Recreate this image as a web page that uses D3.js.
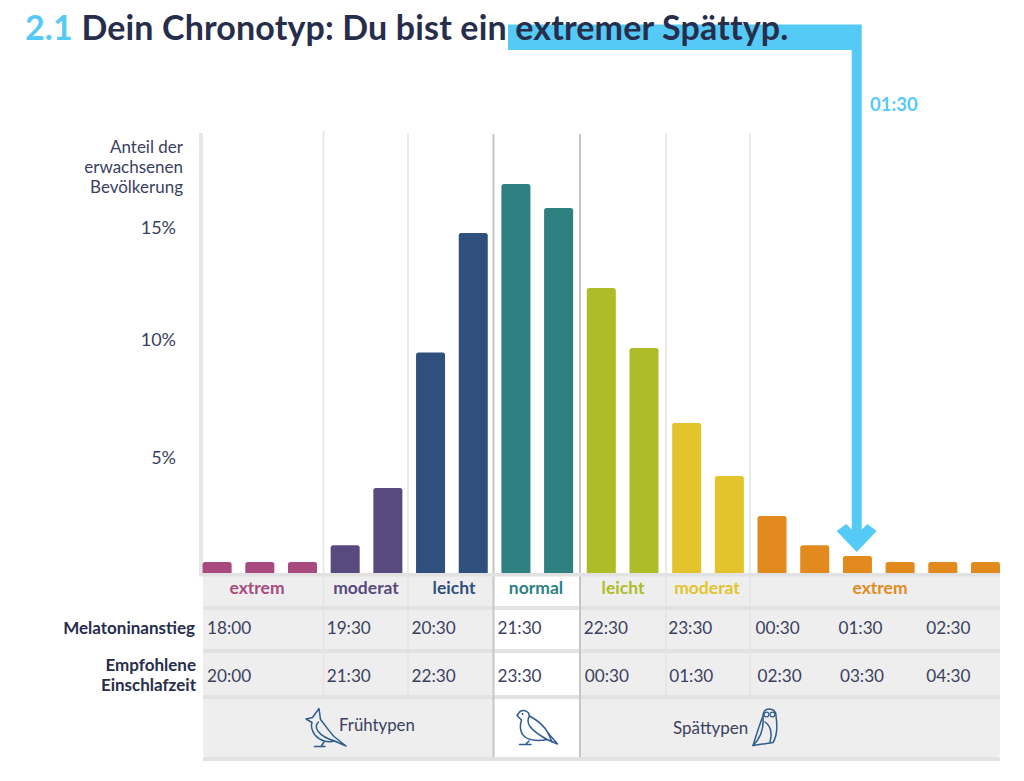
<!DOCTYPE html>
<html lang="de"><head><meta charset="utf-8">
<script src="https://cdn.jsdelivr.net/npm/d3@7/dist/d3.min.js"></script>
<style>
html,body{margin:0;padding:0;background:#fff}
svg{display:block}
text{font-family:Lato,"Open Sans",sans-serif}
</style></head><body><svg id="c" width="1024" height="781"></svg>
<script>
// ---- data ----
const barValues = [0.47,0.47,0.47,1.2,3.66,9.5,14.65,16.77,15.73,12.28,9.7,6.47,4.18,2.46,1.2,0.73,0.47,0.47,0.47];
const barGroups = [0,0,0,1,1,2,2,3,3,4,4,5,5,6,6,6,6,6,6];
const groupLabels = ["extrem","moderat","leicht","normal","leicht","moderat","extrem"];
const groupColors = ["#a94a7f","#584a7e","#2f4f7c","#2e8180","#aebc27","#e3c42c","#e38a1e"];
const yTicks = [5,10,15];
const melatonin = ["18:00","19:30","20:30","21:30","22:30","23:30","00:30","01:30","02:30"];
const bedtime = ["20:00","21:30","22:30","23:30","00:30","01:30","02:30","03:30","04:30"];
const timeBars = [0,3,5,7,9,11,13,15,17];
const userBar = 15;
const userLabel = "01:30";

// ---- layout ----
const svg = d3.select("#c");
const x = d3.scaleBand().domain(d3.range(barValues.length)).range([202.6,1000]).paddingInner(0.32).paddingOuter(0);
const y = d3.scaleLinear().domain([0,15]).range([573,225]);
const ink = "#3a4160", dark = "#272e4c", blue = "#56caf6", rule = "#e2e2e2", panel = "#eeeeee";

// panels
svg.append("rect").attr("x",203).attr("y",575).attr("width",797).attr("height",182).attr("fill",panel).attr("rx",3);
svg.append("rect").attr("x",493.5).attr("y",575).attr("width",86.5).attr("height",182).attr("fill","#fff");

// horizontal rules
svg.selectAll(".hr").data([[606,610],[649,653],[695,699],[757,761]]).join("rect")
  .attr("x",203).attr("width",797).attr("y",d=>d[0]).attr("height",d=>d[1]-d[0]).attr("fill",rule);

// vertical rules
const vLines = [[323.5,131,695,"#e4e4e4",1.6],[408,133,695,"#e4e4e4",1.6],[493.5,134,757,"#c6c6c6",2],[580,134,757,"#c6c6c6",2],[666,134,695,"#e4e4e4",1.6],[750,134,695,"#e4e4e4",1.6]];
svg.selectAll(".vl").data(vLines).join("line")
  .attr("x1",d=>d[0]).attr("x2",d=>d[0]).attr("y1",d=>d[1]).attr("y2",d=>d[2])
  .attr("stroke",d=>d[3]).attr("stroke-width",d=>d[4]);
svg.append("rect").attr("x",199).attr("y",133).attr("width",4).attr("height",443).attr("fill","#e6e6e6");
svg.append("rect").attr("x",199).attr("y",573).attr("width",801).attr("height",3.5).attr("fill",rule);

// bars
const topRound = (x0,x1,y0,y1,r)=>{const p=d3.path();p.moveTo(x0,y1);p.lineTo(x0,y0+r);p.quadraticCurveTo(x0,y0,x0+r,y0);p.lineTo(x1-r,y0);p.quadraticCurveTo(x1,y0,x1,y0+r);p.lineTo(x1,y1);p.closePath();return p.toString();};
svg.selectAll(".bar").data(barValues).join("path").attr("class","bar")
  .attr("d",(d,i)=>topRound(x(i),x(i)+x.bandwidth(),y(d),y(0),2.5))
  .attr("fill",(d,i)=>groupColors[barGroups[i]]);

// y axis
const tickShift = {5:0.5,10:-1.5,15:3};
const yAxis = d3.axisLeft(y).tickValues(yTicks).tickFormat(d=>d+"%").tickSize(0).tickPadding(0);
const yg = svg.append("g").attr("transform","translate(176,0)").call(yAxis);
yg.select(".domain").remove();
yg.selectAll("text").attr("font-size",18).attr("fill",ink).attr("font-family","Lato").attr("y",d=>tickShift[d]);
["Anteil der","erwachsenen","Bevölkerung"].forEach((t,i)=>svg.append("text").attr("x",183).attr("y",152.5+i*20)
  .attr("text-anchor","end").attr("font-size",17).attr("fill",ink).text(t));

// category labels
const groupCentre = [257,366,454,536,623,707,880];
groupLabels.forEach((t,i)=>svg.append("text").attr("x",groupCentre[i]).attr("y",593.5).attr("text-anchor","middle")
  .attr("font-size",17.5).attr("font-weight",700).attr("fill",groupColors[i]).text(t));

// time rows
const nudge = [204,-4,-4.5,-4,-3,-4,-2,-4.5,-2];
const nudge2 = [204,-4,-4.5,-4,-2,-3,0,-3,-2];
const rowX = (i,n)=> i===0 ? 207 : x(timeBars[i])+n[i];
svg.selectAll(".m").data(melatonin).join("text").attr("x",(d,i)=>rowX(i,nudge)).attr("y",633.5)
  .attr("font-size",17.2).attr("fill",ink).text(d=>d);
svg.selectAll(".b").data(bedtime).join("text").attr("x",(d,i)=>rowX(i,nudge2)).attr("y",681.5)
  .attr("font-size",17.2).attr("fill",ink).text(d=>d);

// row heads
[["Melatoninanstieg",195,634],["Empfohlene",196,671],["Einschlafzeit",196,691]].forEach(r=>
  svg.append("text").attr("x",r[1]).attr("y",r[2]).attr("text-anchor","end").attr("font-size",17)
   .attr("font-weight",700).attr("fill",dark).text(r[0]));

// types
svg.append("text").attr("x",339).attr("y",731).attr("font-size",16.8).attr("fill",ink).text("Frühtypen");
svg.append("text").attr("x",673).attr("y",734).attr("font-size",17).attr("fill",ink).text("Spättypen");

// icons
const ic = svg.append("g").attr("fill","none").attr("stroke","#2f5c8f").attr("stroke-width",1.5).attr("stroke-linejoin","round").attr("stroke-linecap","round");
[
 // crested bird
 "M306 719L312.5 717.5L319 708.5L320.5 719.5C325 725 329 731 334 736.5L346 746L334.5 741C328 743 320 741 315 735C311.5 730 311 725 312 722.5Z",
 "M318.5 722C313 727 318 736 334.5 741","M324 742L321.5 746M314.5 746.5H325",
 // pigeon
 "M517 715.5L520 711.5C524 709.5 529 711 529.5 716C537 720 545 727 548 733L557.5 744L547 739.5C540 741 530 741 525 737C519 732 520 724 521.5 720Z",
 "M529.5 716C525 723 530 730 547 739.5","M529 741L526 744M519.5 744.5H531M548 733L552 742",
 // owl
 "M763 716C763 711 766 709 769 709C774 709 776 711 776 716C777.5 726 777 736 773 742.5L753 745.5C756 736 759 726 763 716Z",
 "M765 722C771 726 772.5 734 770 742","M763 716C764 728 761 738 753 745.5"
].forEach(d=>ic.append("path").attr("d",d));
[[766.5,714.5],[772.5,714.5]].forEach(p=>ic.append("circle").attr("cx",p[0]).attr("cy",p[1]).attr("r",2.4).attr("stroke-width",1.2));
svg.append("circle").attr("cx",522.5).attr("cy",714).attr("r",1).attr("fill","#2f5c8f");

// pointer
const ax = x(userBar)+x.bandwidth()/2-0.7;
const tip = y(barValues[userBar])-4;
svg.append("path").attr("fill",blue)
  .attr("d",`M508 24.5H${ax+5}V${tip-22.5}L${ax+10.5} ${tip-28}L${ax+20} ${tip-21}L${ax} ${tip}L${ax-20} ${tip-21}L${ax-10.5} ${tip-28}L${ax-5} ${tip-22.5}V50H508Z`);
svg.append("text").attr("x",870).attr("y",110.5).attr("font-size",18.5).attr("font-weight",700).attr("fill",blue).text(userLabel);

// title
const t = svg.append("text").attr("x",25).attr("y",40).attr("font-size",34).attr("font-weight",700).attr("letter-spacing",0.15).attr("fill",dark);
t.append("tspan").attr("fill",blue).text("2.1");
t.append("tspan").text(" Dein Chronotyp: Du bist ein extremer Spättyp.");
</script></body></html>
